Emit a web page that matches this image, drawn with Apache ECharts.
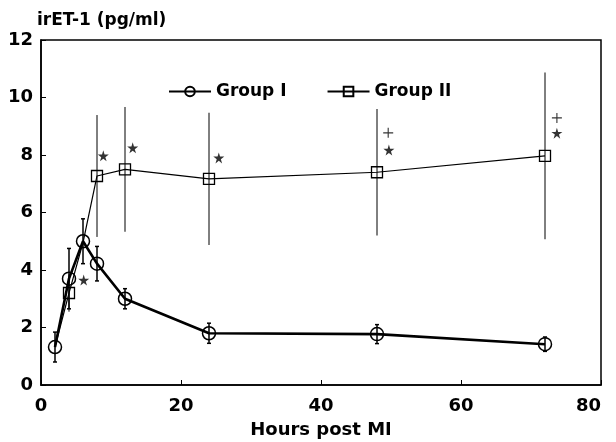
<!DOCTYPE html>
<html>
<head>
<meta charset="utf-8">
<script src="https://cdn.jsdelivr.net/npm/echarts@6/dist/echarts.min.js"></script>
<style>
  html, body { margin: 0; padding: 0; background: #fff; }
  #main { width: 616px; height: 442px; }
</style>
</head>
<body>
<div id="main"></div>
<script>
var hours = [2, 4, 6, 8, 12, 24, 48, 72];
var groupIMean = [1.32, 3.7, 5.0, 4.22, 3.0, 1.8, 1.77, 1.42];
var groupIErr = [0.52, 1.05, 0.78, 0.6, 0.35, 0.35, 0.33, 0.25];
var groupIIMean = [1.32, 3.2, 4.95, 7.27, 7.5, 7.17, 7.4, 7.97];
var groupIIErr = [0, 0.65, 0, 2.12, 2.17, 2.3, 2.2, 2.9];
var starMarks = [[6.1, 3.65], [8.9, 7.97], [13.1, 8.25], [25.4, 7.9], [49.7, 8.17], [73.7, 8.76]];
var plusMarks = [[49.6, 8.77], [73.7, 9.29]];
var xTicks = { min: 0, max: 80, interval: 20 };
var yTicks = { min: 0, max: 12, interval: 2 };

var FONT = '"DejaVu Sans", Verdana, sans-serif';
var myChart = echarts.init(document.getElementById('main'));

function pairs(xs, ys) {
    return xs.map(function (x, i) { return [x, ys[i]]; });
}

function errorSeries(ys, errs, width, cap) {
    var data = [];
    hours.forEach(function (h, i) {
        if (errs[i] > 0) data.push([h, ys[i] - errs[i], ys[i] + errs[i]]);
    });
    return {
        type: 'custom',
        silent: true,
        z: 1,
        data: data,
        encode: { x: 0, y: [1, 2] },
        renderItem: function (params, api) {
            var lo = api.coord([api.value(0), api.value(1)]);
            var hi = api.coord([api.value(0), api.value(2)]);
            var st = { stroke: '#000', lineWidth: width };
            var kids = [{ type: 'line', shape: { x1: lo[0], y1: lo[1], x2: hi[0], y2: hi[1] }, style: st }];
            if (cap) {
                kids.push({ type: 'line', shape: { x1: lo[0] - cap, y1: lo[1], x2: lo[0] + cap, y2: lo[1] }, style: st });
                kids.push({ type: 'line', shape: { x1: hi[0] - cap, y1: hi[1], x2: hi[0] + cap, y2: hi[1] }, style: st });
            }
            return { type: 'group', children: kids };
        }
    };
}

var groupIIData = pairs(hours, groupIIMean).map(function (p) {
    // points hidden under the Group I circles
    if (p[0] === 2 || p[0] === 6) return { value: p, symbol: 'none' };
    return p;
});

var option = {
    backgroundColor: '#fff',
    animation: false,
    grid: {
        left: 41, right: 15, top: 40, bottom: 57,
        outerBoundsMode: 'none',
        show: true, borderColor: '#000', borderWidth: 1.5
    },
    legend: {
        left: 163,
        top: 78,
        itemWidth: 42,
        itemHeight: 12,
        itemGap: 40,
        data: ['Group I', 'Group II'],
        textStyle: { fontFamily: FONT, fontWeight: 'bold', fontSize: 17, color: '#000' }
    },
    xAxis: {
        type: 'value',
        min: xTicks.min, max: xTicks.max, interval: xTicks.interval,
        name: 'Hours post MI',
        nameLocation: 'middle',
        nameGap: 36,
        nameTextStyle: { fontFamily: FONT, fontWeight: 'bold', fontSize: 18, color: '#000' },
        axisLine: { lineStyle: { color: '#000', width: 1.5 } },
        axisTick: { inside: true, length: 5, lineStyle: { color: '#000' } },
        axisLabel: { fontFamily: FONT, fontWeight: 'bold', fontSize: 18, color: '#000', margin: 12, alignMaxLabel: 'right' },
        splitLine: { show: false }
    },
    yAxis: {
        type: 'value',
        min: yTicks.min, max: yTicks.max, interval: yTicks.interval,
        name: 'irET-1 (pg/ml)',
        nameLocation: 'end',
        nameGap: 11,
        nameTextStyle: { fontFamily: FONT, fontWeight: 'bold', fontSize: 17, color: '#000', align: 'left', padding: [0, 0, 0, -4] },
        axisLine: { lineStyle: { color: '#000', width: 1.5 } },
        axisTick: { inside: true, length: 5, lineStyle: { color: '#000' } },
        axisLabel: { fontFamily: FONT, fontWeight: 'bold', fontSize: 18, color: '#000', margin: 8 },
        splitLine: { show: false }
    },
    series: [
        errorSeries(groupIMean, groupIErr, 1.5, 2),
        errorSeries(groupIIMean, groupIIErr, 1, 0),
        {
            name: 'Group II',
            type: 'line',
            z: 3,
            data: groupIIData,
            symbol: 'rect',
            symbolSize: 11,
            lineStyle: { color: '#000', width: 1.2 },
            itemStyle: { color: 'rgba(0,0,0,0)', borderColor: '#000', borderWidth: 1.3 }
        },
        {
            name: 'Group I',
            type: 'line',
            z: 4,
            data: pairs(hours, groupIMean),
            symbol: 'circle',
            symbolSize: 13,
            lineStyle: { color: '#000', width: 2.6 },
            itemStyle: { color: 'rgba(0,0,0,0)', borderColor: '#000', borderWidth: 1.5 }
        },
        {
            type: 'scatter',
            z: 5,
            data: starMarks,
            symbol: 'path://M50,0 L61,35 L98,35 L68,57 L79,91 L50,70 L21,91 L32,57 L2,35 L39,35 Z',
            symbolSize: 11,
            itemStyle: { color: '#000' }
        },
        {
            type: 'scatter',
            z: 5,
            data: plusMarks,
            symbol: 'path://M4,0 H5 V4 H9 V5 H5 V9 H4 V5 H0 V4 H4 Z',
            symbolSize: 10,
            itemStyle: { color: '#000' }
        }
    ]
};

myChart.setOption(option);
</script>
</body>
</html>
